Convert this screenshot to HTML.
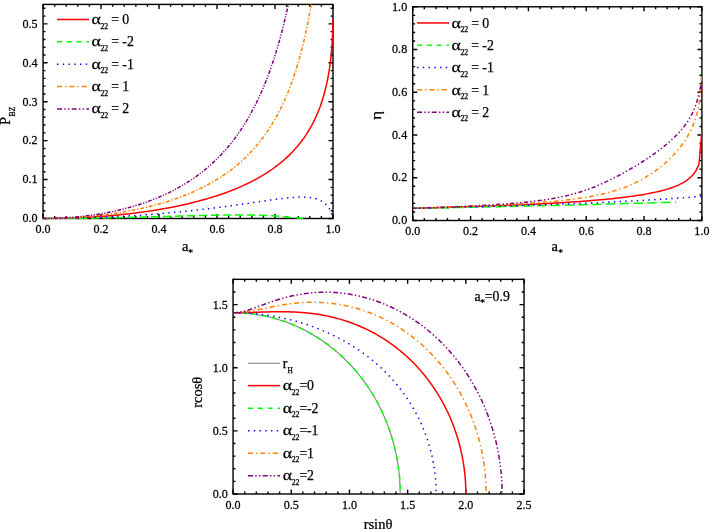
<!DOCTYPE html>
<html><head><meta charset="utf-8"><title>figure</title>
<style>
html,body{margin:0;padding:0;background:#fff}
svg{display:block;filter:blur(0.3px)}
svg text{font-family:"Liberation Serif","DejaVu Serif",serif;fill:#000;stroke:#000;stroke-width:0.25px}
</style></head>
<body>
<svg width="710" height="529" viewBox="0 0 710 529">
<rect width="710" height="529" fill="#fff"/>
<clipPath id="c1"><rect x="43.05" y="4.40" width="289.95" height="214.80"/></clipPath>
<path d="M54.65 218.50v-2.4M54.65 4.40v2.4M66.25 218.50v-2.4M66.25 4.40v2.4M77.84 218.50v-2.4M77.84 4.40v2.4M89.44 218.50v-2.4M89.44 4.40v2.4M112.64 218.50v-2.4M112.64 4.40v2.4M124.24 218.50v-2.4M124.24 4.40v2.4M135.83 218.50v-2.4M135.83 4.40v2.4M147.43 218.50v-2.4M147.43 4.40v2.4M170.63 218.50v-2.4M170.63 4.40v2.4M182.23 218.50v-2.4M182.23 4.40v2.4M193.82 218.50v-2.4M193.82 4.40v2.4M205.42 218.50v-2.4M205.42 4.40v2.4M228.62 218.50v-2.4M228.62 4.40v2.4M240.22 218.50v-2.4M240.22 4.40v2.4M251.81 218.50v-2.4M251.81 4.40v2.4M263.41 218.50v-2.4M263.41 4.40v2.4M286.61 218.50v-2.4M286.61 4.40v2.4M298.21 218.50v-2.4M298.21 4.40v2.4M309.80 218.50v-2.4M309.80 4.40v2.4M321.40 218.50v-2.4M321.40 4.40v2.4M43.05 210.71h2.4M333.00 210.71h-2.4M43.05 202.93h2.4M333.00 202.93h-2.4M43.05 195.14h2.4M333.00 195.14h-2.4M43.05 187.36h2.4M333.00 187.36h-2.4M43.05 171.79h2.4M333.00 171.79h-2.4M43.05 164.00h2.4M333.00 164.00h-2.4M43.05 156.22h2.4M333.00 156.22h-2.4M43.05 148.43h2.4M333.00 148.43h-2.4M43.05 132.86h2.4M333.00 132.86h-2.4M43.05 125.07h2.4M333.00 125.07h-2.4M43.05 117.29h2.4M333.00 117.29h-2.4M43.05 109.50h2.4M333.00 109.50h-2.4M43.05 93.93h2.4M333.00 93.93h-2.4M43.05 86.15h2.4M333.00 86.15h-2.4M43.05 78.36h2.4M333.00 78.36h-2.4M43.05 70.58h2.4M333.00 70.58h-2.4M43.05 55.01h2.4M333.00 55.01h-2.4M43.05 47.22h2.4M333.00 47.22h-2.4M43.05 39.43h2.4M333.00 39.43h-2.4M43.05 31.65h2.4M333.00 31.65h-2.4M43.05 16.08h2.4M333.00 16.08h-2.4M43.05 8.29h2.4M333.00 8.29h-2.4M43.05 218.50v-4.5M43.05 4.40v4.5M101.04 218.50v-4.5M101.04 4.40v4.5M159.03 218.50v-4.5M159.03 4.40v4.5M217.02 218.50v-4.5M217.02 4.40v4.5M275.01 218.50v-4.5M275.01 4.40v4.5M333.00 218.50v-4.5M333.00 4.40v4.5M43.05 218.50h4.5M333.00 218.50h-4.5M43.05 179.57h4.5M333.00 179.57h-4.5M43.05 140.65h4.5M333.00 140.65h-4.5M43.05 101.72h4.5M333.00 101.72h-4.5M43.05 62.79h4.5M333.00 62.79h-4.5M43.05 23.86h4.5M333.00 23.86h-4.5" stroke="#000" stroke-width="1.4" fill="none"/>
<rect x="43.05" y="4.40" width="289.95" height="214.10" fill="none" stroke="#000" stroke-width="1.4"/>
<text transform="translate(43.05,232.90) scale(0.95,1.04)" font-size="12.7" text-anchor="middle">0.0</text>
<text transform="translate(101.04,232.90) scale(0.95,1.04)" font-size="12.7" text-anchor="middle">0.2</text>
<text transform="translate(159.03,232.90) scale(0.95,1.04)" font-size="12.7" text-anchor="middle">0.4</text>
<text transform="translate(217.02,232.90) scale(0.95,1.04)" font-size="12.7" text-anchor="middle">0.6</text>
<text transform="translate(275.01,232.90) scale(0.95,1.04)" font-size="12.7" text-anchor="middle">0.8</text>
<text transform="translate(333.00,232.90) scale(0.95,1.04)" font-size="12.7" text-anchor="middle">1.0</text>
<text transform="translate(37.45,222.30) scale(0.95,1.04)" font-size="12.7" text-anchor="end">0.0</text>
<text transform="translate(37.45,183.37) scale(0.95,1.04)" font-size="12.7" text-anchor="end">0.1</text>
<text transform="translate(37.45,144.45) scale(0.95,1.04)" font-size="12.7" text-anchor="end">0.2</text>
<text transform="translate(37.45,105.52) scale(0.95,1.04)" font-size="12.7" text-anchor="end">0.3</text>
<text transform="translate(37.45,66.59) scale(0.95,1.04)" font-size="12.7" text-anchor="end">0.4</text>
<text transform="translate(37.45,27.66) scale(0.95,1.04)" font-size="12.7" text-anchor="end">0.5</text>
<path d="M43.05 218.50L45.95 218.49L48.85 218.48L51.75 218.45L54.65 218.42L57.55 218.37L60.45 218.31L63.35 218.25L66.25 218.17L69.15 218.08L72.05 217.98L74.94 217.88L77.84 217.76L80.74 217.63L83.64 217.48L86.54 217.33L89.44 217.17L92.34 216.99L95.24 216.81L98.14 216.61L101.04 216.40L103.94 216.18L106.84 215.95L109.74 215.71L112.64 215.45L115.54 215.19L118.44 214.91L121.34 214.61L124.24 214.31L127.14 213.99L130.03 213.66L132.93 213.31L135.83 212.96L138.73 212.58L141.63 212.20L144.53 211.79L147.43 211.38L150.33 210.95L153.23 210.50L156.13 210.03L159.03 209.56L161.93 209.06L164.83 208.55L167.73 208.01L170.63 207.46L173.53 206.90L176.43 206.31L179.33 205.70L182.23 205.08L185.13 204.43L188.02 203.76L190.92 203.06L193.82 202.35L196.72 201.61L199.62 200.85L202.52 200.06L205.42 199.24L208.32 198.40L211.22 197.52L214.12 196.62L217.02 195.68L219.92 194.72L222.82 193.72L225.72 192.68L228.62 191.60L231.52 190.49L234.42 189.34L237.32 188.14L240.22 186.89L243.12 185.60L246.01 184.26L248.91 182.86L251.81 181.40L254.71 179.89L257.61 178.31L260.51 176.66L263.41 174.93L266.31 173.13L269.21 171.23L272.11 169.25L275.01 167.16L277.91 164.97L280.81 162.65L283.71 160.21L286.61 157.61L289.51 154.86L292.41 151.92L295.31 148.78L298.21 145.41L301.11 141.77L304.00 137.83L306.17 134.65L308.17 131.51L310.03 128.41L311.74 125.34L313.33 122.32L314.80 119.34L316.16 116.41L317.42 113.52L318.58 110.69L319.66 107.90L320.65 105.16L321.58 102.48L322.43 99.85L323.22 97.27L323.95 94.74L324.62 92.27L325.25 89.86L325.83 87.50L326.36 85.19L326.86 82.94L327.32 80.75L327.74 78.60L328.14 76.51L328.50 74.48L328.83 72.50L329.15 70.57L329.43 68.69L329.70 66.86L329.95 65.09L330.17 63.36L330.39 61.68L330.58 60.05L330.76 58.47L330.93 56.94L331.08 55.45L331.23 54.00L331.36 52.60L331.48 51.24L331.59 49.93L331.70 48.65L331.80 47.41L331.89 46.22L331.97 45.06L332.05 43.94L332.12 42.85L332.18 41.80L332.24 40.79L332.30 39.80L332.35 38.86L332.40 37.94L332.45 37.05L332.49 36.19L332.53 35.36L332.56 34.56L332.59 33.79L332.62 33.04L332.65 32.32L332.68 31.63L332.70 30.95L332.72 30.30L332.75 29.68L332.76 29.07L332.78 28.49L332.80 27.93L332.81 27.39L332.83 26.86L332.84 26.36L332.85 25.87L332.86 25.40L332.87 24.95L332.88 24.51L332.89 24.09L332.90 23.69L332.91 23.30L332.91 22.92L332.92 22.56L332.93 22.21L332.93 21.87L332.94 21.55L332.94 21.23L332.95 20.93L332.95 20.64L332.95 20.36L332.96 20.09L332.96 19.83L332.96 19.58L332.97 19.34L332.97 19.11L332.97 18.89" stroke="#ff0000" stroke-width="1.5" fill="none" clip-path="url(#c1)"/>
<path d="M43.05 218.50L45.95 218.50L48.85 218.49L51.75 218.49L54.65 218.48L57.55 218.47L60.45 218.45L63.35 218.44L66.25 218.42L69.15 218.40L72.05 218.37L74.94 218.35L77.84 218.32L80.74 218.28L83.64 218.25L86.54 218.21L89.44 218.18L92.34 218.13L95.24 218.09L98.14 218.05L101.04 218.00L103.94 217.95L106.84 217.89L109.74 217.84L112.64 217.78L115.54 217.72L118.44 217.66L121.34 217.60L124.24 217.54L127.14 217.47L130.03 217.40L132.93 217.33L135.83 217.26L138.73 217.19L141.63 217.11L144.53 217.04L147.43 216.96L150.33 216.88L153.23 216.80L156.13 216.72L159.03 216.64L161.93 216.56L164.83 216.48L167.73 216.40L170.63 216.32L173.53 216.23L176.43 216.15L179.33 216.07L182.23 215.99L185.13 215.91L188.02 215.83L190.92 215.75L193.82 215.67L196.72 215.60L199.62 215.53L202.52 215.46L205.42 215.39L208.32 215.33L211.22 215.27L214.12 215.21L217.02 215.16L219.92 215.11L222.82 215.07L225.72 215.03L228.62 215.01L231.52 214.98L234.42 214.97L237.32 214.97L240.22 214.97L243.12 214.98L246.01 215.01L248.91 215.04L251.81 215.09L254.71 215.16L257.61 215.23L260.51 215.32L263.41 215.43L266.31 215.56L269.21 215.70L272.11 215.86L275.01 216.04L277.91 216.24L280.81 216.46L283.71 216.70L286.61 216.95L289.51 217.22L292.41 217.49L295.31 217.76L298.21 218.02L301.11 218.25L304.00 218.43L306.17 218.49L306.96 218.50" stroke="#00ff00" stroke-width="1.5" fill="none" stroke-dasharray="8.3 3.7" clip-path="url(#c1)"/>
<path d="M43.05 218.50L45.95 218.50L48.85 218.49L51.75 218.47L54.65 218.45L57.55 218.43L60.45 218.40L63.35 218.36L66.25 218.31L69.15 218.27L72.05 218.21L74.94 218.15L77.84 218.08L80.74 218.01L83.64 217.93L86.54 217.85L89.44 217.76L92.34 217.66L95.24 217.56L98.14 217.45L101.04 217.34L103.94 217.22L106.84 217.09L109.74 216.96L112.64 216.82L115.54 216.68L118.44 216.53L121.34 216.37L124.24 216.21L127.14 216.04L130.03 215.86L132.93 215.68L135.83 215.49L138.73 215.30L141.63 215.10L144.53 214.89L147.43 214.68L150.33 214.46L153.23 214.23L156.13 214.00L159.03 213.76L161.93 213.52L164.83 213.26L167.73 213.01L170.63 212.74L173.53 212.47L176.43 212.19L179.33 211.91L182.23 211.61L185.13 211.31L188.02 211.01L190.92 210.70L193.82 210.38L196.72 210.05L199.62 209.72L202.52 209.38L205.42 209.04L208.32 208.69L211.22 208.33L214.12 207.96L217.02 207.59L219.92 207.22L222.82 206.84L225.72 206.45L228.62 206.06L231.52 205.66L234.42 205.25L237.32 204.85L240.22 204.43L243.12 204.02L246.01 203.60L248.91 203.18L251.81 202.75L254.71 202.33L257.61 201.91L260.51 201.48L263.41 201.06L266.31 200.64L269.21 200.23L272.11 199.83L275.01 199.44L277.91 199.06L280.81 198.69L283.71 198.35L286.61 198.03L289.51 197.75L292.41 197.50L295.31 197.30L298.21 197.16L301.11 197.09L304.00 197.11L306.17 197.19L308.17 197.33L310.03 197.53L311.74 197.77L313.33 198.06L314.80 198.40L316.16 198.77L317.42 199.18L318.58 199.61L319.66 200.07L320.65 200.56L321.58 201.06L322.43 201.58L323.22 202.11L323.95 202.65L324.62 203.20L325.25 203.75L325.83 204.30L326.36 204.85L326.86 205.39L327.32 205.93L327.74 206.46L328.14 206.99L328.50 207.50L328.83 208.01L329.15 208.50L329.43 208.98L329.70 209.44L329.95 209.89L330.17 210.33L330.39 210.75L330.58 211.15L330.76 211.54L330.93 211.92L331.08 212.28L331.23 212.62L331.36 212.95L331.48 213.27L331.59 213.57L331.70 213.85L331.80 214.13L331.89 214.39L331.97 214.63L332.05 214.87L332.12 215.09L332.18 215.30L332.24 215.50L332.30 215.68L332.35 215.86L332.40 216.03L332.45 216.18L332.49 216.33L332.53 216.47L332.56 216.60L332.59 216.73L332.62 216.84L332.65 216.95L332.68 217.06L332.70 217.15L332.72 217.24L332.75 217.33L332.76 217.41L332.78 217.48L332.80 217.55L332.81 217.61L332.83 217.67L332.84 217.73L332.85 217.78L332.86 217.83L332.87 217.88L332.88 217.92L332.89 217.96L332.90 218.00L332.91 218.04L332.91 218.07L332.92 218.10L332.93 218.13L332.93 218.15L332.94 218.18L332.94 218.20L332.95 218.22L332.95 218.24L332.95 218.26L332.96 218.28L332.96 218.29L332.96 218.31L332.97 218.32L332.97 218.33L332.97 218.35" stroke="#0000ff" stroke-width="1.5" fill="none" stroke-dasharray="1.4 4.3" clip-path="url(#c1)"/>
<path d="M43.05 218.50L45.95 218.49L48.85 218.47L51.75 218.43L54.65 218.37L57.55 218.30L60.45 218.21L63.35 218.11L66.25 217.98L69.15 217.85L72.05 217.69L74.94 217.52L77.84 217.33L80.74 217.13L83.64 216.91L86.54 216.67L89.44 216.41L92.34 216.13L95.24 215.84L98.14 215.53L101.04 215.20L103.94 214.85L106.84 214.48L109.74 214.09L112.64 213.68L115.54 213.26L118.44 212.81L121.34 212.34L124.24 211.84L127.14 211.33L130.03 210.79L132.93 210.23L135.83 209.65L138.73 209.04L141.63 208.40L144.53 207.74L147.43 207.05L150.33 206.34L153.23 205.60L156.13 204.82L159.03 204.02L161.93 203.19L164.83 202.32L167.73 201.42L170.63 200.49L173.53 199.52L176.43 198.51L179.33 197.46L182.23 196.38L185.13 195.25L188.02 194.07L190.92 192.85L193.82 191.59L196.72 190.27L199.62 188.90L202.52 187.48L205.42 186.00L208.32 184.45L211.22 182.85L214.12 181.17L217.02 179.43L219.92 177.61L222.82 175.71L225.72 173.72L228.62 171.65L231.52 169.48L234.42 167.22L237.32 164.84L240.22 162.35L243.12 159.73L246.01 156.98L248.91 154.09L251.81 151.04L254.71 147.83L257.61 144.44L260.51 140.85L263.41 137.04L266.31 133.00L269.21 128.71L272.11 124.12L275.01 119.23L277.91 113.98L280.81 108.34L283.71 102.26L286.61 95.68L289.51 88.54L292.41 80.74L295.31 72.20L298.21 62.77L301.11 52.30L304.00 40.60L306.17 30.89L308.17 21.03L310.03 11.04L311.74 0.92L313.33 -9.32L314.80 -19.65L316.16 -30.07L317.42 -40.58L318.58 -51.14L319.66 -61.76L320.65 -72.42L321.58 -83.11L322.43 -93.81L323.22 -104.52L323.95 -115.23L324.62 -125.91L325.25 -136.56L325.83 -147.17L326.36 -157.73L326.86 -168.22L327.32 -178.65L327.74 -188.99L328.14 -199.24L328.50 -209.39L328.83 -219.43L329.15 -229.36L329.43 -239.17L329.70 -248.85L329.95 -258.39L330.17 -267.79L330.39 -277.05L330.58 -286.15L330.76 -295.11L330.93 -303.90L331.08 -312.53L331.23 -321.00L331.36 -329.30L331.48 -337.43L331.59 -345.40L331.70 -353.19L331.80 -360.81L331.89 -368.26L331.97 -375.54L332.05 -382.64L332.12 -389.57L332.18 -396.34L332.24 -402.93L332.30 -409.35L332.35 -415.61L332.40 -421.70L332.45 -427.63L332.49 -433.39L332.53 -439.00L332.56 -444.45L332.59 -449.75L332.62 -454.89L332.65 -459.88L332.68 -464.73L332.70 -469.43L332.72 -473.99L332.75 -478.42L332.76 -482.71L332.78 -486.86L332.80 -490.89L332.81 -494.79L332.83 -498.57L332.84 -502.23L332.85 -505.77L332.86 -509.19L332.87 -512.50L332.88 -515.71L332.89 -518.81L332.90 -521.81L332.91 -524.71L332.91 -527.51L332.92 -530.21L332.93 -532.83L332.93 -535.35L332.94 -537.79L332.94 -540.15L332.95 -542.43L332.95 -544.62L332.95 -546.74L332.96 -548.79L332.96 -550.77L332.96 -552.67L332.97 -554.51L332.97 -556.29L332.97 -558.00" stroke="#ff8000" stroke-width="1.5" fill="none" stroke-dasharray="3.8 1.9 1.3 1.9" clip-path="url(#c1)"/>
<path d="M43.05 218.50L45.95 218.49L48.85 218.45L51.75 218.40L54.65 218.31L57.55 218.21L60.45 218.08L63.35 217.93L66.25 217.76L69.15 217.56L72.05 217.34L74.94 217.09L77.84 216.82L80.74 216.52L83.64 216.20L86.54 215.85L89.44 215.48L92.34 215.08L95.24 214.65L98.14 214.20L101.04 213.72L103.94 213.21L106.84 212.67L109.74 212.11L112.64 211.51L115.54 210.88L118.44 210.22L121.34 209.53L124.24 208.81L127.14 208.05L130.03 207.26L132.93 206.43L135.83 205.57L138.73 204.66L141.63 203.72L144.53 202.74L147.43 201.71L150.33 200.64L153.23 199.53L156.13 198.37L159.03 197.16L161.93 195.90L164.83 194.59L167.73 193.23L170.63 191.81L173.53 190.33L176.43 188.79L179.33 187.19L182.23 185.51L185.13 183.77L188.02 181.96L190.92 180.07L193.82 178.09L196.72 176.03L199.62 173.89L202.52 171.65L205.42 169.30L208.32 166.86L211.22 164.30L214.12 161.62L217.02 158.82L219.92 155.89L222.82 152.81L225.72 149.59L228.62 146.20L231.52 142.64L234.42 138.89L237.32 134.95L240.22 130.80L243.12 126.41L246.01 121.77L248.91 116.87L251.81 111.67L254.71 106.16L257.61 100.30L260.51 94.06L263.41 87.40L266.31 80.27L269.21 72.64L272.11 64.45L275.01 55.62L277.91 46.08L280.81 35.75L283.71 24.51L286.61 12.25L289.51 -1.21L292.41 -16.03L295.31 -32.45L298.21 -50.75L301.11 -71.31L304.00 -94.59L306.17 -114.11L308.17 -134.12L310.03 -154.59L311.74 -175.51L313.33 -196.85L314.80 -218.58L316.16 -240.68L317.42 -263.12L318.58 -285.87L319.66 -308.90L320.65 -332.19L321.58 -355.70L322.43 -379.40L323.22 -403.27L323.95 -427.26L324.62 -451.35L325.25 -475.51L325.83 -499.71L326.36 -523.92L326.86 -548.11L327.32 -572.25L327.74 -596.31L328.14 -620.27L328.50 -644.11L328.83 -667.79L329.15 -691.29L329.43 -714.60L329.70 -737.69L329.95 -760.54L330.17 -783.13L330.39 -805.44L330.58 -827.47L330.76 -849.19L330.93 -870.59L331.08 -891.66L331.23 -912.38L331.36 -932.75L331.48 -952.76L331.59 -972.40L331.70 -991.67L331.80 -1010.55L331.89 -1029.05L331.97 -1047.16L332.05 -1064.87L332.12 -1082.19L332.18 -1099.12L332.24 -1115.65L332.30 -1131.79L332.35 -1147.53L332.40 -1162.88L332.45 -1177.85L332.49 -1192.43L332.53 -1206.62L332.56 -1220.44L332.59 -1233.88L332.62 -1246.95L332.65 -1259.66L332.68 -1272.01L332.70 -1284.01L332.72 -1295.66L332.75 -1306.96L332.76 -1317.94L332.78 -1328.58L332.80 -1338.91L332.81 -1348.92L332.83 -1358.62L332.84 -1368.02L332.85 -1377.13L332.86 -1385.94L332.87 -1394.48L332.88 -1402.75L332.89 -1410.75L332.90 -1418.48L332.91 -1425.97L332.91 -1433.21L332.92 -1440.21L332.93 -1446.98L332.93 -1453.52L332.94 -1459.84L332.94 -1465.95L332.95 -1471.85L332.95 -1477.55L332.95 -1483.05L332.96 -1488.37L332.96 -1493.50L332.96 -1498.45L332.97 -1503.24L332.97 -1507.85L332.97 -1512.30" stroke="#800080" stroke-width="1.5" fill="none" stroke-dasharray="3.8 1.5 1.2 1.5 1.2 1.5" clip-path="url(#c1)"/>
<path d="M57 19.5H89" stroke="#ff0000" stroke-width="1.5" fill="none"/>
<text transform="translate(91.53,24.00) scale(1.28,1)" font-size="13.8" stroke="none">α</text>
<text x="100.40" y="28.60" font-size="7.8" stroke-width="0.15">22</text>
<text x="111.30" y="24.00" font-size="13.8">=</text>
<text x="122.30" y="24.00" font-size="13.8">0</text>
<path d="M57 41.85H89" stroke="#00ff00" stroke-width="1.5" fill="none" stroke-dasharray="5 4.8"/>
<text transform="translate(91.53,46.35) scale(1.28,1)" font-size="13.8" stroke="none">α</text>
<text x="100.40" y="50.95" font-size="7.8" stroke-width="0.15">22</text>
<text x="111.30" y="46.35" font-size="13.8">=</text>
<text x="122.30" y="46.35" font-size="13.8">-2</text>
<path d="M57 64.2H89" stroke="#0000ff" stroke-width="1.5" fill="none" stroke-dasharray="1.4 4.35"/>
<text transform="translate(91.53,68.70) scale(1.28,1)" font-size="13.8" stroke="none">α</text>
<text x="100.40" y="73.30" font-size="7.8" stroke-width="0.15">22</text>
<text x="111.30" y="68.70" font-size="13.8">=</text>
<text x="122.30" y="68.70" font-size="13.8">-1</text>
<path d="M57 86.55000000000001H89" stroke="#ff8000" stroke-width="1.5" fill="none" stroke-dasharray="5 3 1.4 3"/>
<text transform="translate(91.53,91.05) scale(1.28,1)" font-size="13.8" stroke="none">α</text>
<text x="100.40" y="95.65" font-size="7.8" stroke-width="0.15">22</text>
<text x="111.30" y="91.05" font-size="13.8">=</text>
<text x="122.30" y="91.05" font-size="13.8">1</text>
<path d="M57 108.9H89" stroke="#800080" stroke-width="1.5" fill="none" stroke-dasharray="5 2.3 1.4 2.3 1.4 2.3"/>
<text transform="translate(91.53,113.40) scale(1.28,1)" font-size="13.8" stroke="none">α</text>
<text x="100.40" y="118.00" font-size="7.8" stroke-width="0.15">22</text>
<text x="111.30" y="113.40" font-size="13.8">=</text>
<text x="122.30" y="113.40" font-size="13.8">2</text>
<text x="181.9" y="250.8" font-size="14.5">a</text><text x="188.3" y="256.4" font-size="9.5" stroke="#000" stroke-width="0.5">*</text>
<g transform="translate(10,124.6) rotate(-90)"><text x="-0.4" y="0" font-size="14.5">P</text><text x="8.2" y="5" font-size="7.8">BZ</text></g>
<clipPath id="c2"><rect x="412.75" y="6.80" width="289.15" height="214.40"/></clipPath>
<path d="M424.32 220.50v-2.4M424.32 6.80v2.4M435.88 220.50v-2.4M435.88 6.80v2.4M447.45 220.50v-2.4M447.45 6.80v2.4M459.01 220.50v-2.4M459.01 6.80v2.4M482.15 220.50v-2.4M482.15 6.80v2.4M493.71 220.50v-2.4M493.71 6.80v2.4M505.28 220.50v-2.4M505.28 6.80v2.4M516.84 220.50v-2.4M516.84 6.80v2.4M539.98 220.50v-2.4M539.98 6.80v2.4M551.54 220.50v-2.4M551.54 6.80v2.4M563.11 220.50v-2.4M563.11 6.80v2.4M574.67 220.50v-2.4M574.67 6.80v2.4M597.81 220.50v-2.4M597.81 6.80v2.4M609.37 220.50v-2.4M609.37 6.80v2.4M620.94 220.50v-2.4M620.94 6.80v2.4M632.50 220.50v-2.4M632.50 6.80v2.4M655.64 220.50v-2.4M655.64 6.80v2.4M667.20 220.50v-2.4M667.20 6.80v2.4M678.77 220.50v-2.4M678.77 6.80v2.4M690.33 220.50v-2.4M690.33 6.80v2.4M412.75 211.95h2.4M701.90 211.95h-2.4M412.75 203.40h2.4M701.90 203.40h-2.4M412.75 194.86h2.4M701.90 194.86h-2.4M412.75 186.31h2.4M701.90 186.31h-2.4M412.75 169.21h2.4M701.90 169.21h-2.4M412.75 160.66h2.4M701.90 160.66h-2.4M412.75 152.12h2.4M701.90 152.12h-2.4M412.75 143.57h2.4M701.90 143.57h-2.4M412.75 126.47h2.4M701.90 126.47h-2.4M412.75 117.92h2.4M701.90 117.92h-2.4M412.75 109.38h2.4M701.90 109.38h-2.4M412.75 100.83h2.4M701.90 100.83h-2.4M412.75 83.73h2.4M701.90 83.73h-2.4M412.75 75.18h2.4M701.90 75.18h-2.4M412.75 66.64h2.4M701.90 66.64h-2.4M412.75 58.09h2.4M701.90 58.09h-2.4M412.75 40.99h2.4M701.90 40.99h-2.4M412.75 32.44h2.4M701.90 32.44h-2.4M412.75 23.90h2.4M701.90 23.90h-2.4M412.75 15.35h2.4M701.90 15.35h-2.4M412.75 220.50v-4.5M412.75 6.80v4.5M470.58 220.50v-4.5M470.58 6.80v4.5M528.41 220.50v-4.5M528.41 6.80v4.5M586.24 220.50v-4.5M586.24 6.80v4.5M644.07 220.50v-4.5M644.07 6.80v4.5M701.90 220.50v-4.5M701.90 6.80v4.5M412.75 220.50h4.5M701.90 220.50h-4.5M412.75 177.76h4.5M701.90 177.76h-4.5M412.75 135.02h4.5M701.90 135.02h-4.5M412.75 92.28h4.5M701.90 92.28h-4.5M412.75 49.54h4.5M701.90 49.54h-4.5M412.75 6.80h4.5M701.90 6.80h-4.5" stroke="#000" stroke-width="1.4" fill="none"/>
<rect x="412.75" y="6.80" width="289.15" height="213.70" fill="none" stroke="#000" stroke-width="1.4"/>
<text transform="translate(412.75,235.20) scale(0.95,1.04)" font-size="12.7" text-anchor="middle">0.0</text>
<text transform="translate(470.58,235.20) scale(0.95,1.04)" font-size="12.7" text-anchor="middle">0.2</text>
<text transform="translate(528.41,235.20) scale(0.95,1.04)" font-size="12.7" text-anchor="middle">0.4</text>
<text transform="translate(586.24,235.20) scale(0.95,1.04)" font-size="12.7" text-anchor="middle">0.6</text>
<text transform="translate(644.07,235.20) scale(0.95,1.04)" font-size="12.7" text-anchor="middle">0.8</text>
<text transform="translate(701.90,235.20) scale(0.95,1.04)" font-size="12.7" text-anchor="middle">1.0</text>
<text transform="translate(407.15,224.20) scale(0.95,1.04)" font-size="12.7" text-anchor="end">0.0</text>
<text transform="translate(407.15,181.46) scale(0.95,1.04)" font-size="12.7" text-anchor="end">0.2</text>
<text transform="translate(407.15,138.72) scale(0.95,1.04)" font-size="12.7" text-anchor="end">0.4</text>
<text transform="translate(407.15,95.98) scale(0.95,1.04)" font-size="12.7" text-anchor="end">0.6</text>
<text transform="translate(407.15,53.24) scale(0.95,1.04)" font-size="12.7" text-anchor="end">0.8</text>
<text transform="translate(407.15,10.50) scale(0.95,1.04)" font-size="12.7" text-anchor="end">1.0</text>
<path d="M412.75 208.28L415.64 208.21L418.53 208.14L421.42 208.07L424.32 208.00L427.21 207.92L430.10 207.85L432.99 207.77L435.88 207.70L438.77 207.62L441.67 207.54L444.56 207.46L447.45 207.38L450.34 207.30L453.23 207.22L456.12 207.13L459.01 207.05L461.91 206.96L464.80 206.87L467.69 206.78L470.58 206.69L473.47 206.59L476.36 206.50L479.25 206.40L482.15 206.30L485.04 206.21L487.93 206.10L490.82 206.00L493.71 205.89L496.60 205.79L499.50 205.68L502.39 205.57L505.28 205.45L508.17 205.34L511.06 205.22L513.95 205.10L516.84 204.98L519.74 204.85L522.63 204.72L525.52 204.59L528.41 204.46L531.30 204.32L534.19 204.19L537.08 204.04L539.98 203.90L542.87 203.75L545.76 203.60L548.65 203.44L551.54 203.28L554.43 203.12L557.33 202.95L560.22 202.78L563.11 202.60L566.00 202.42L568.89 202.24L571.78 202.05L574.67 201.85L577.57 201.65L580.46 201.44L583.35 201.23L586.24 201.01L589.13 200.78L592.02 200.55L594.91 200.31L597.81 200.06L600.70 199.80L603.59 199.53L606.48 199.25L609.37 198.97L612.26 198.67L615.15 198.36L618.05 198.04L620.94 197.70L623.83 197.35L626.72 196.99L629.61 196.61L632.50 196.21L635.40 195.79L638.29 195.35L641.18 194.89L644.07 194.40L646.96 193.88L649.85 193.33L652.74 192.75L655.64 192.13L658.53 191.46L661.42 190.75L664.31 189.98L667.20 189.14L670.09 188.22L672.99 187.22L675.88 186.10L678.77 184.85L681.66 183.43L684.55 181.79L687.44 179.87L690.33 177.53L693.23 174.57L696.12 170.52L699.01 164.08L701.90 130.19" stroke="#ff0000" stroke-width="1.5" fill="none" clip-path="url(#c2)"/>
<path d="M412.75 208.28L415.64 208.23L418.53 208.18L421.42 208.13L424.32 208.08L427.21 208.03L430.10 207.97L432.99 207.92L435.88 207.87L438.77 207.82L441.67 207.77L444.56 207.71L447.45 207.66L450.34 207.60L453.23 207.55L456.12 207.50L459.01 207.44L461.91 207.38L464.80 207.33L467.69 207.27L470.58 207.22L473.47 207.16L476.36 207.10L479.25 207.04L482.15 206.98L485.04 206.93L487.93 206.87L490.82 206.81L493.71 206.75L496.60 206.69L499.50 206.63L502.39 206.56L505.28 206.50L508.17 206.44L511.06 206.38L513.95 206.32L516.84 206.25L519.74 206.19L522.63 206.12L525.52 206.06L528.41 205.99L531.30 205.93L534.19 205.86L537.08 205.80L539.98 205.73L542.87 205.66L545.76 205.59L548.65 205.53L551.54 205.46L554.43 205.39L557.33 205.32L560.22 205.25L563.11 205.18L566.00 205.11L568.89 205.04L571.78 204.97L574.67 204.89L577.57 204.82L580.46 204.75L583.35 204.68L586.24 204.60L589.13 204.53L592.02 204.45L594.91 204.38L597.81 204.30L600.70 204.23L603.59 204.15L606.48 204.08L609.37 204.00L612.26 203.92L615.15 203.84L618.05 203.77L620.94 203.69L623.83 203.61L626.72 203.53L629.61 203.45L632.50 203.37L635.40 203.29L638.29 203.21L641.18 203.13L644.07 203.05L646.96 202.97L649.85 202.89L652.74 202.81L655.64 202.73L658.53 202.65L661.42 202.57L664.31 202.49L667.20 202.41L670.09 202.33L672.99 202.24L675.88 202.16" stroke="#00ff00" stroke-width="1.5" fill="none" stroke-dasharray="9.5 4.3" clip-path="url(#c2)"/>
<path d="M412.75 208.28L415.64 208.22L418.53 208.16L421.42 208.10L424.32 208.04L427.21 207.98L430.10 207.91L432.99 207.85L435.88 207.79L438.77 207.72L441.67 207.66L444.56 207.59L447.45 207.52L450.34 207.46L453.23 207.39L456.12 207.32L459.01 207.25L461.91 207.18L464.80 207.11L467.69 207.04L470.58 206.96L473.47 206.89L476.36 206.81L479.25 206.74L482.15 206.66L485.04 206.59L487.93 206.51L490.82 206.43L493.71 206.35L496.60 206.27L499.50 206.19L502.39 206.10L505.28 206.02L508.17 205.93L511.06 205.85L513.95 205.76L516.84 205.67L519.74 205.58L522.63 205.49L525.52 205.40L528.41 205.31L531.30 205.22L534.19 205.12L537.08 205.02L539.98 204.93L542.87 204.83L545.76 204.73L548.65 204.62L551.54 204.52L554.43 204.42L557.33 204.31L560.22 204.20L563.11 204.10L566.00 203.99L568.89 203.87L571.78 203.76L574.67 203.64L577.57 203.53L580.46 203.41L583.35 203.29L586.24 203.17L589.13 203.04L592.02 202.92L594.91 202.79L597.81 202.66L600.70 202.53L603.59 202.40L606.48 202.26L609.37 202.12L612.26 201.99L615.15 201.84L618.05 201.70L620.94 201.55L623.83 201.41L626.72 201.26L629.61 201.10L632.50 200.95L635.40 200.79L638.29 200.63L641.18 200.47L644.07 200.30L646.96 200.13L649.85 199.96L652.74 199.79L655.64 199.61L658.53 199.43L661.42 199.25L664.31 199.06L667.20 198.87L670.09 198.68L672.99 198.49L675.88 198.29L678.77 198.09L681.66 197.88L684.55 197.68L687.44 197.47L690.33 197.25L693.23 197.04L696.12 196.82L699.01 196.59L701.90 196.37" stroke="#0000ff" stroke-width="1.5" fill="none" stroke-dasharray="1.4 4.35" clip-path="url(#c2)"/>
<path d="M412.75 208.28L415.64 208.20L418.53 208.12L421.42 208.04L424.32 207.95L427.21 207.87L430.10 207.78L432.99 207.70L435.88 207.61L438.77 207.52L441.67 207.42L444.56 207.33L447.45 207.23L450.34 207.13L453.23 207.03L456.12 206.93L459.01 206.83L461.91 206.72L464.80 206.61L467.69 206.50L470.58 206.39L473.47 206.27L476.36 206.15L479.25 206.03L482.15 205.90L485.04 205.77L487.93 205.64L490.82 205.51L493.71 205.37L496.60 205.23L499.50 205.08L502.39 204.93L505.28 204.78L508.17 204.62L511.06 204.46L513.95 204.29L516.84 204.11L519.74 203.94L522.63 203.75L525.52 203.56L528.41 203.37L531.30 203.16L534.19 202.95L537.08 202.74L539.98 202.51L542.87 202.28L545.76 202.03L548.65 201.78L551.54 201.52L554.43 201.24L557.33 200.96L560.22 200.66L563.11 200.35L566.00 200.02L568.89 199.68L571.78 199.32L574.67 198.95L577.57 198.55L580.46 198.13L583.35 197.69L586.24 197.23L589.13 196.73L592.02 196.21L594.91 195.66L597.81 195.07L600.70 194.45L603.59 193.78L606.48 193.07L609.37 192.31L612.26 191.51L615.15 190.65L618.05 189.73L620.94 188.74L623.83 187.70L626.72 186.58L629.61 185.39L632.50 184.12L635.40 182.76L638.29 181.33L641.18 179.80L644.07 178.18L646.96 176.46L649.85 174.64L652.74 172.72L655.64 170.68L658.53 168.52L661.42 166.23L664.31 163.80L667.20 161.22L670.09 158.47L672.99 155.53L675.88 152.38L678.77 148.96L681.66 145.24L684.55 141.13L687.44 136.52L690.33 131.22L693.23 124.92L696.12 116.94L699.01 105.45L701.90 73.05" stroke="#ff8000" stroke-width="1.5" fill="none" stroke-dasharray="4.4 3.0 1.4 3.0" clip-path="url(#c2)"/>
<path d="M412.75 208.28L415.64 208.19L418.53 208.10L421.42 208.01L424.32 207.91L427.21 207.82L430.10 207.72L432.99 207.62L435.88 207.51L438.77 207.41L441.67 207.30L444.56 207.19L447.45 207.08L450.34 206.96L453.23 206.84L456.12 206.72L459.01 206.59L461.91 206.46L464.80 206.33L467.69 206.19L470.58 206.05L473.47 205.90L476.36 205.76L479.25 205.60L482.15 205.44L485.04 205.28L487.93 205.11L490.82 204.93L493.71 204.75L496.60 204.56L499.50 204.36L502.39 204.16L505.28 203.94L508.17 203.72L511.06 203.49L513.95 203.25L516.84 203.00L519.74 202.74L522.63 202.46L525.52 202.17L528.41 201.87L531.30 201.55L534.19 201.21L537.08 200.86L539.98 200.48L542.87 200.09L545.76 199.67L548.65 199.22L551.54 198.74L554.43 198.24L557.33 197.70L560.22 197.13L563.11 196.51L566.00 195.86L568.89 195.17L571.78 194.43L574.67 193.64L577.57 192.80L580.46 191.91L583.35 190.97L586.24 189.98L589.13 188.94L592.02 187.84L594.91 186.69L597.81 185.49L600.70 184.25L603.59 182.96L606.48 181.62L609.37 180.24L612.26 178.81L615.15 177.35L618.05 175.84L620.94 174.30L623.83 172.72L626.72 171.11L629.61 169.46L632.50 167.77L635.40 166.05L638.29 164.29L641.18 162.49L644.07 160.65L646.96 158.76L649.85 156.83L652.74 154.84L655.64 152.79L658.53 150.67L661.42 148.47L664.31 146.19L667.20 143.80L670.09 141.29L672.99 138.64L675.88 135.82L678.77 132.79L681.66 129.50L684.55 125.87L687.44 121.79L690.33 117.10L693.23 111.49L696.12 104.35L699.01 93.98L701.90 80.53" stroke="#800080" stroke-width="1.5" fill="none" stroke-dasharray="4.2 2.3 1.4 2.3 1.4 2.3" clip-path="url(#c2)"/>
<path d="M417 22.95H449" stroke="#ff0000" stroke-width="1.5" fill="none"/>
<text transform="translate(451.53,27.65) scale(1.28,1)" font-size="13.8" stroke="none">α</text>
<text x="460.40" y="32.25" font-size="7.8" stroke-width="0.15">22</text>
<text x="471.30" y="27.65" font-size="13.8">=</text>
<text x="482.30" y="27.65" font-size="13.8">0</text>
<path d="M417 45.25H449" stroke="#00ff00" stroke-width="1.5" fill="none" stroke-dasharray="5 4.8"/>
<text transform="translate(451.53,49.95) scale(1.28,1)" font-size="13.8" stroke="none">α</text>
<text x="460.40" y="54.55" font-size="7.8" stroke-width="0.15">22</text>
<text x="471.30" y="49.95" font-size="13.8">=</text>
<text x="482.30" y="49.95" font-size="13.8">-2</text>
<path d="M417 67.55H449" stroke="#0000ff" stroke-width="1.5" fill="none" stroke-dasharray="1.4 4.35"/>
<text transform="translate(451.53,72.25) scale(1.28,1)" font-size="13.8" stroke="none">α</text>
<text x="460.40" y="76.85" font-size="7.8" stroke-width="0.15">22</text>
<text x="471.30" y="72.25" font-size="13.8">=</text>
<text x="482.30" y="72.25" font-size="13.8">-1</text>
<path d="M417 89.85000000000001H449" stroke="#ff8000" stroke-width="1.5" fill="none" stroke-dasharray="5 3 1.4 3"/>
<text transform="translate(451.53,94.55) scale(1.28,1)" font-size="13.8" stroke="none">α</text>
<text x="460.40" y="99.15" font-size="7.8" stroke-width="0.15">22</text>
<text x="471.30" y="94.55" font-size="13.8">=</text>
<text x="482.30" y="94.55" font-size="13.8">1</text>
<path d="M417 112.15H449" stroke="#800080" stroke-width="1.5" fill="none" stroke-dasharray="5 2.3 1.4 2.3 1.4 2.3"/>
<text transform="translate(451.53,116.85) scale(1.28,1)" font-size="13.8" stroke="none">α</text>
<text x="460.40" y="121.45" font-size="7.8" stroke-width="0.15">22</text>
<text x="471.30" y="116.85" font-size="13.8">=</text>
<text x="482.30" y="116.85" font-size="13.8">2</text>
<text x="551.5" y="250.8" font-size="14.5">a</text><text x="558.2" y="256.4" font-size="9.5" stroke="#000" stroke-width="0.5">*</text>
<text transform="translate(380.9,115.3) rotate(-90) scale(1.15,1)" font-size="14.5" text-anchor="middle">η</text>
<clipPath id="c3"><rect x="233.05" y="279.35" width="291.00" height="215.35"/></clipPath>
<path d="M244.69 494.00v-2.4M244.69 279.35v2.4M256.33 494.00v-2.4M256.33 279.35v2.4M267.97 494.00v-2.4M267.97 279.35v2.4M279.61 494.00v-2.4M279.61 279.35v2.4M302.89 494.00v-2.4M302.89 279.35v2.4M314.53 494.00v-2.4M314.53 279.35v2.4M326.17 494.00v-2.4M326.17 279.35v2.4M337.81 494.00v-2.4M337.81 279.35v2.4M361.09 494.00v-2.4M361.09 279.35v2.4M372.73 494.00v-2.4M372.73 279.35v2.4M384.37 494.00v-2.4M384.37 279.35v2.4M396.01 494.00v-2.4M396.01 279.35v2.4M419.29 494.00v-2.4M419.29 279.35v2.4M430.93 494.00v-2.4M430.93 279.35v2.4M442.57 494.00v-2.4M442.57 279.35v2.4M454.21 494.00v-2.4M454.21 279.35v2.4M477.49 494.00v-2.4M477.49 279.35v2.4M489.13 494.00v-2.4M489.13 279.35v2.4M500.77 494.00v-2.4M500.77 279.35v2.4M512.41 494.00v-2.4M512.41 279.35v2.4M233.05 481.37h2.4M524.05 481.37h-2.4M233.05 468.75h2.4M524.05 468.75h-2.4M233.05 456.12h2.4M524.05 456.12h-2.4M233.05 443.49h2.4M524.05 443.49h-2.4M233.05 418.24h2.4M524.05 418.24h-2.4M233.05 405.61h2.4M524.05 405.61h-2.4M233.05 392.99h2.4M524.05 392.99h-2.4M233.05 380.36h2.4M524.05 380.36h-2.4M233.05 355.11h2.4M524.05 355.11h-2.4M233.05 342.48h2.4M524.05 342.48h-2.4M233.05 329.86h2.4M524.05 329.86h-2.4M233.05 317.23h2.4M524.05 317.23h-2.4M233.05 291.98h2.4M524.05 291.98h-2.4M233.05 279.35h2.4M524.05 279.35h-2.4M233.05 494.00v-4.5M233.05 279.35v4.5M291.25 494.00v-4.5M291.25 279.35v4.5M349.45 494.00v-4.5M349.45 279.35v4.5M407.65 494.00v-4.5M407.65 279.35v4.5M465.85 494.00v-4.5M465.85 279.35v4.5M524.05 494.00v-4.5M524.05 279.35v4.5M233.05 494.00h4.5M524.05 494.00h-4.5M233.05 430.87h4.5M524.05 430.87h-4.5M233.05 367.74h4.5M524.05 367.74h-4.5M233.05 304.60h4.5M524.05 304.60h-4.5" stroke="#000" stroke-width="1.4" fill="none"/>
<rect x="233.05" y="279.35" width="291.00" height="214.65" fill="none" stroke="#000" stroke-width="1.4"/>
<text transform="translate(233.05,509.40) scale(0.95,1.04)" font-size="12.7" text-anchor="middle">0.0</text>
<text transform="translate(291.25,509.40) scale(0.95,1.04)" font-size="12.7" text-anchor="middle">0.5</text>
<text transform="translate(349.45,509.40) scale(0.95,1.04)" font-size="12.7" text-anchor="middle">1.0</text>
<text transform="translate(407.65,509.40) scale(0.95,1.04)" font-size="12.7" text-anchor="middle">1.5</text>
<text transform="translate(465.85,509.40) scale(0.95,1.04)" font-size="12.7" text-anchor="middle">2.0</text>
<text transform="translate(524.05,509.40) scale(0.95,1.04)" font-size="12.7" text-anchor="middle">2.5</text>
<text transform="translate(227.85,498.10) scale(0.95,1.04)" font-size="12.7" text-anchor="end">0.0</text>
<text transform="translate(227.85,434.97) scale(0.95,1.04)" font-size="12.7" text-anchor="end">0.5</text>
<text transform="translate(227.85,371.84) scale(0.95,1.04)" font-size="12.7" text-anchor="end">1.0</text>
<text transform="translate(227.85,308.70) scale(0.95,1.04)" font-size="12.7" text-anchor="end">1.5</text>
<path d="M233.05 312.70L234.51 312.70L235.97 312.73L237.43 312.76L238.88 312.81L240.34 312.87L241.80 312.95L243.25 313.04L244.71 313.14L246.16 313.26L247.62 313.39L249.07 313.53L250.52 313.69L251.97 313.86L253.42 314.05L254.87 314.25L256.31 314.46L257.75 314.69L259.20 314.93L260.64 315.18L262.07 315.45L263.51 315.73L264.94 316.03L266.37 316.34L267.80 316.66L269.23 317.00L270.65 317.34L272.07 317.71L273.48 318.08L274.90 318.47L276.31 318.88L277.72 319.29L279.12 319.72L280.52 320.16L281.92 320.62L283.31 321.09L284.70 321.57L286.08 322.07L287.46 322.58L288.84 323.10L290.21 323.63L291.58 324.18L292.95 324.74L294.31 325.31L295.66 325.90L297.01 326.50L298.36 327.11L299.70 327.73L301.03 328.37L302.36 329.02L303.69 329.68L305.00 330.36L306.32 331.05L307.63 331.75L308.93 332.46L310.23 333.18L311.52 333.92L312.80 334.67L314.08 335.43L315.35 336.20L316.62 336.99L317.88 337.78L319.13 338.59L320.38 339.41L321.62 340.25L322.85 341.09L324.08 341.95L325.30 342.81L326.51 343.69L327.72 344.58L328.92 345.49L330.11 346.40L331.29 347.32L332.47 348.26L333.64 349.21L334.80 350.16L335.95 351.13L337.10 352.11L338.23 353.10L339.36 354.10L340.48 355.11L341.60 356.14L342.70 357.17L343.80 358.21L344.89 359.27L345.97 360.33L347.04 361.40L348.10 362.49L349.15 363.58L350.20 364.69L351.23 365.80L352.26 366.92L353.28 368.06L354.29 369.20L355.29 370.35L356.28 371.51L357.26 372.69L358.23 373.87L359.19 375.06L360.14 376.25L361.08 377.46L362.02 378.68L362.94 379.90L363.85 381.14L364.76 382.38L365.65 383.63L366.53 384.89L367.40 386.16L368.27 387.43L369.12 388.72L369.96 390.01L370.79 391.31L371.61 392.62L372.42 393.93L373.22 395.26L374.01 396.59L374.79 397.92L375.56 399.27L376.31 400.62L377.06 401.98L377.80 403.35L378.52 404.72L379.23 406.10L379.93 407.49L380.62 408.88L381.30 410.28L381.97 411.69L382.63 413.10L383.27 414.52L383.91 415.95L384.53 417.38L385.14 418.82L385.74 420.26L386.33 421.71L386.90 423.16L387.46 424.62L388.02 426.08L388.56 427.55L389.09 429.03L389.60 430.51L390.11 431.99L390.60 433.48L391.08 434.97L391.55 436.47L392.01 437.97L392.45 439.48L392.88 440.99L393.30 442.51L393.71 444.03L394.11 445.55L394.49 447.08L394.86 448.61L395.22 450.14L395.57 451.68L395.90 453.22L396.23 454.76L396.54 456.31L396.83 457.85L397.12 459.41L397.39 460.96L397.65 462.52L397.90 464.08L398.13 465.64L398.35 467.20L398.56 468.77L398.76 470.34L398.94 471.90L399.11 473.48L399.27 475.05L399.42 476.62L399.55 478.20L399.67 479.78L399.78 481.35L399.88 482.93L399.96 484.51L400.03 486.09L400.09 487.67L400.13 489.25L400.16 490.84L400.18 492.42L400.19 494.00" stroke="#808080" stroke-width="1.1" fill="none" clip-path="url(#c3)"/>
<path d="M233.05 312.70L234.51 312.70L235.97 312.69L237.43 312.68L238.89 312.67L240.35 312.65L241.81 312.63L243.28 312.60L244.75 312.57L246.22 312.54L247.69 312.51L249.16 312.47L250.64 312.43L252.13 312.39L253.61 312.35L255.10 312.30L256.60 312.26L258.10 312.21L259.60 312.16L261.11 312.12L262.62 312.07L264.14 312.03L265.67 311.99L267.20 311.95L268.73 311.91L270.27 311.87L271.82 311.84L273.37 311.81L274.93 311.79L276.50 311.77L278.07 311.76L279.64 311.75L281.23 311.75L282.81 311.76L284.41 311.77L286.01 311.79L287.62 311.82L289.23 311.86L290.85 311.91L292.47 311.97L294.11 312.04L295.74 312.11L297.38 312.20L299.03 312.30L300.68 312.42L302.34 312.54L304.00 312.68L305.67 312.83L307.34 312.99L309.02 313.17L310.70 313.36L312.39 313.57L314.08 313.79L315.77 314.03L317.47 314.28L319.17 314.55L320.87 314.84L322.58 315.14L324.29 315.46L326.00 315.79L327.71 316.14L329.43 316.52L331.15 316.90L332.87 317.31L334.59 317.74L336.31 318.18L338.03 318.64L339.75 319.13L341.48 319.63L343.20 320.15L344.92 320.69L346.64 321.25L348.37 321.83L350.09 322.43L351.80 323.05L353.52 323.69L355.24 324.36L356.95 325.04L358.66 325.74L360.36 326.47L362.07 327.21L363.77 327.98L365.46 328.77L367.15 329.58L368.84 330.41L370.52 331.26L372.20 332.14L373.87 333.03L375.53 333.95L377.19 334.89L378.85 335.85L380.49 336.83L382.13 337.83L383.76 338.86L385.39 339.91L387.00 340.97L388.61 342.06L390.21 343.17L391.80 344.31L393.38 345.46L394.95 346.64L396.51 347.83L398.06 349.05L399.60 350.29L401.13 351.55L402.65 352.83L404.16 354.14L405.65 355.46L407.13 356.80L408.60 358.17L410.06 359.55L411.51 360.96L412.94 362.38L414.36 363.83L415.76 365.29L417.15 366.78L418.53 368.28L419.89 369.80L421.23 371.35L422.56 372.91L423.88 374.49L425.18 376.09L426.46 377.71L427.73 379.34L428.98 381.00L430.21 382.67L431.42 384.36L432.62 386.06L433.80 387.79L434.97 389.53L436.11 391.29L437.24 393.06L438.34 394.85L439.43 396.66L440.50 398.48L441.55 400.32L442.58 402.17L443.59 404.04L444.58 405.92L445.55 407.82L446.50 409.73L447.43 411.65L448.34 413.59L449.22 415.54L450.09 417.50L450.93 419.48L451.75 421.47L452.56 423.47L453.33 425.48L454.09 427.50L454.82 429.54L455.54 431.58L456.23 433.64L456.89 435.71L457.53 437.78L458.15 439.87L458.75 441.96L459.33 444.06L459.88 446.17L460.40 448.29L460.90 450.42L461.38 452.55L461.84 454.69L462.27 456.84L462.68 458.99L463.06 461.15L463.42 463.32L463.75 465.49L464.06 467.66L464.35 469.84L464.61 472.02L464.84 474.21L465.05 476.40L465.24 478.60L465.40 480.79L465.54 482.99L465.65 485.19L465.74 487.39L465.80 489.59L465.84 491.80L465.85 494.00" stroke="#ff0000" stroke-width="1.5" fill="none" clip-path="url(#c3)"/>
<path d="M233.05 312.70L234.51 312.70L235.97 312.73L237.43 312.76L238.88 312.81L240.34 312.87L241.80 312.95L243.25 313.04L244.71 313.14L246.16 313.26L247.62 313.39L249.07 313.53L250.52 313.69L251.97 313.86L253.42 314.05L254.87 314.25L256.31 314.46L257.75 314.69L259.20 314.93L260.64 315.18L262.07 315.45L263.51 315.73L264.94 316.03L266.37 316.33L267.80 316.66L269.23 316.99L270.65 317.34L272.07 317.70L273.49 318.08L274.90 318.47L276.31 318.87L277.72 319.28L279.12 319.71L280.52 320.16L281.92 320.61L283.31 321.08L284.70 321.56L286.09 322.06L287.47 322.56L288.85 323.09L290.22 323.62L291.59 324.17L292.95 324.73L294.31 325.30L295.67 325.89L297.02 326.48L298.36 327.10L299.70 327.72L301.04 328.36L302.37 329.01L303.69 329.67L305.01 330.34L306.33 331.03L307.64 331.73L308.94 332.44L310.24 333.16L311.53 333.90L312.81 334.65L314.09 335.41L315.36 336.18L316.63 336.96L317.89 337.76L319.15 338.57L320.39 339.39L321.63 340.22L322.87 341.07L324.10 341.92L325.32 342.79L326.53 343.67L327.74 344.56L328.93 345.46L330.13 346.37L331.31 347.29L332.49 348.23L333.66 349.17L334.82 350.13L335.97 351.10L337.12 352.08L338.26 353.07L339.39 354.07L340.51 355.08L341.62 356.10L342.73 357.13L343.83 358.18L344.92 359.23L346.00 360.29L347.07 361.37L348.13 362.45L349.19 363.54L350.23 364.65L351.27 365.76L352.30 366.88L353.32 368.02L354.33 369.16L355.33 370.31L356.32 371.47L357.30 372.64L358.27 373.82L359.23 375.01L360.19 376.21L361.13 377.42L362.06 378.64L362.99 379.86L363.90 381.09L364.81 382.34L365.70 383.59L366.58 384.85L367.46 386.11L368.32 387.39L369.17 388.67L370.02 389.97L370.85 391.27L371.67 392.57L372.48 393.89L373.28 395.21L374.07 396.54L374.85 397.88L375.62 399.23L376.38 400.58L377.13 401.94L377.86 403.31L378.59 404.68L379.30 406.06L380.00 407.45L380.69 408.84L381.37 410.24L382.04 411.65L382.70 413.06L383.35 414.48L383.98 415.91L384.61 417.34L385.22 418.78L385.82 420.22L386.41 421.67L386.98 423.12L387.55 424.58L388.10 426.05L388.64 427.52L389.17 428.99L389.69 430.47L390.19 431.96L390.69 433.45L391.17 434.94L391.64 436.44L392.10 437.94L392.54 439.45L392.98 440.96L393.40 442.48L393.81 444.00L394.20 445.52L394.59 447.05L394.96 448.58L395.32 450.11L395.67 451.65L396.00 453.19L396.32 454.74L396.63 456.28L396.93 457.83L397.22 459.39L397.49 460.94L397.75 462.50L398.00 464.06L398.23 465.62L398.45 467.19L398.66 468.75L398.86 470.32L399.04 471.89L399.22 473.46L399.38 475.04L399.52 476.61L399.66 478.19L399.78 479.77L399.88 481.35L399.98 482.92L400.06 484.51L400.13 486.09L400.19 487.67L400.24 489.25L400.27 490.83L400.29 492.42L400.29 494.00" stroke="#00ff00" stroke-width="1.5" fill="none" stroke-dasharray="5 4.8" clip-path="url(#c3)"/>
<path d="M233.05 312.70L234.51 312.70L235.97 312.72L237.43 312.74L238.88 312.77L240.34 312.81L241.80 312.86L243.26 312.92L244.72 312.99L246.18 313.07L247.64 313.15L249.09 313.25L250.55 313.35L252.01 313.47L253.47 313.59L254.93 313.72L256.39 313.86L257.85 314.01L259.31 314.17L260.77 314.34L262.22 314.52L263.68 314.71L265.14 314.90L266.60 315.11L268.06 315.32L269.52 315.55L270.98 315.78L272.44 316.03L273.90 316.28L275.36 316.54L276.82 316.81L278.28 317.10L279.74 317.39L281.20 317.69L282.66 318.00L284.11 318.32L285.57 318.65L287.03 318.99L288.49 319.34L289.95 319.70L291.41 320.07L292.87 320.45L294.33 320.84L295.79 321.24L297.24 321.65L298.70 322.07L300.16 322.50L301.62 322.94L303.07 323.39L304.53 323.86L305.99 324.33L307.44 324.81L308.90 325.31L310.35 325.81L311.81 326.33L313.26 326.86L314.71 327.40L316.17 327.95L317.62 328.51L319.07 329.08L320.52 329.66L321.97 330.26L323.41 330.87L324.86 331.49L326.30 332.12L327.75 332.76L329.19 333.41L330.63 334.08L332.07 334.76L333.50 335.45L334.94 336.16L336.37 336.87L337.80 337.60L339.23 338.35L340.66 339.10L342.08 339.87L343.50 340.65L344.92 341.45L346.33 342.25L347.74 343.07L349.15 343.91L350.56 344.76L351.96 345.62L353.36 346.50L354.75 347.39L356.14 348.29L357.52 349.21L358.90 350.14L360.28 351.08L361.65 352.04L363.02 353.02L364.38 354.01L365.73 355.01L367.08 356.03L368.42 357.06L369.76 358.11L371.09 359.17L372.42 360.25L373.73 361.34L375.04 362.45L376.35 363.57L377.64 364.71L378.93 365.86L380.21 367.03L381.48 368.21L382.74 369.40L383.99 370.62L385.24 371.84L386.48 373.08L387.70 374.34L388.92 375.61L390.12 376.90L391.32 378.20L392.51 379.51L393.68 380.85L394.84 382.19L396.00 383.55L397.14 384.93L398.27 386.32L399.38 387.72L400.49 389.14L401.58 390.57L402.66 392.02L403.73 393.48L404.78 394.95L405.82 396.44L406.84 397.94L407.86 399.46L408.85 400.99L409.84 402.53L410.80 404.09L411.76 405.66L412.70 407.24L413.62 408.83L414.53 410.44L415.42 412.06L416.29 413.69L417.15 415.34L417.99 416.99L418.82 418.66L419.63 420.34L420.42 422.03L421.19 423.73L421.95 425.44L422.69 427.16L423.41 428.89L424.11 430.64L424.79 432.39L425.46 434.15L426.11 435.92L426.73 437.70L427.34 439.49L427.93 441.29L428.50 443.10L429.06 444.91L429.59 446.74L430.10 448.57L430.59 450.40L431.06 452.25L431.52 454.10L431.95 455.96L432.36 457.82L432.75 459.69L433.12 461.57L433.47 463.45L433.80 465.33L434.11 467.22L434.40 469.12L434.66 471.01L434.91 472.92L435.13 474.82L435.33 476.73L435.52 478.64L435.68 480.56L435.82 482.47L435.93 484.39L436.03 486.31L436.11 488.23L436.16 490.15L436.19 492.08L436.20 494.00" stroke="#0000ff" stroke-width="1.5" fill="none" stroke-dasharray="1.4 4.35" clip-path="url(#c3)"/>
<path d="M233.05 312.70L234.51 312.68L235.97 312.65L237.43 312.58L238.89 312.49L240.36 312.38L241.83 312.25L243.31 312.09L244.79 311.91L246.28 311.71L247.77 311.49L249.27 311.25L250.78 311.00L252.30 310.73L253.83 310.45L255.36 310.16L256.91 309.85L258.46 309.54L260.03 309.22L261.61 308.90L263.19 308.57L264.79 308.24L266.40 307.90L268.02 307.57L269.65 307.24L271.29 306.91L272.94 306.58L274.60 306.26L276.27 305.95L277.96 305.64L279.65 305.34L281.36 305.05L283.07 304.77L284.80 304.50L286.53 304.24L288.28 304.00L290.03 303.76L291.80 303.55L293.57 303.34L295.35 303.16L297.14 302.99L298.94 302.83L300.75 302.69L302.56 302.58L304.39 302.47L306.22 302.39L308.05 302.33L309.90 302.29L311.75 302.26L313.60 302.26L315.47 302.28L317.33 302.32L319.21 302.38L321.09 302.46L322.97 302.57L324.86 302.70L326.75 302.85L328.64 303.02L330.54 303.22L332.44 303.44L334.34 303.68L336.25 303.95L338.16 304.24L340.07 304.56L341.98 304.90L343.89 305.27L345.81 305.66L347.72 306.07L349.63 306.51L351.54 306.98L353.46 307.47L355.37 307.98L357.28 308.53L359.18 309.09L361.09 309.68L362.99 310.30L364.89 310.95L366.79 311.61L368.69 312.31L370.58 313.03L372.46 313.78L374.34 314.55L376.22 315.35L378.09 316.17L379.95 317.02L381.81 317.89L383.67 318.80L385.51 319.72L387.35 320.67L389.18 321.65L391.01 322.66L392.82 323.68L394.63 324.74L396.43 325.82L398.22 326.92L400.00 328.05L401.77 329.21L403.53 330.39L405.28 331.59L407.02 332.82L408.75 334.08L410.46 335.36L412.17 336.66L413.86 337.99L415.54 339.34L417.21 340.71L418.86 342.11L420.50 343.54L422.13 344.98L423.74 346.45L425.34 347.95L426.92 349.46L428.49 351.00L430.04 352.56L431.58 354.15L433.10 355.75L434.61 357.38L436.10 359.03L437.57 360.70L439.02 362.39L440.46 364.10L441.88 365.84L443.28 367.59L444.67 369.36L446.03 371.16L447.38 372.97L448.70 374.81L450.01 376.66L451.30 378.53L452.56 380.42L453.81 382.33L455.04 384.26L456.25 386.20L457.43 388.17L458.60 390.15L459.74 392.14L460.86 394.16L461.96 396.19L463.04 398.23L464.09 400.30L465.13 402.37L466.14 404.46L467.12 406.57L468.09 408.69L469.03 410.83L469.95 412.98L470.84 415.14L471.71 417.31L472.56 419.50L473.38 421.70L474.18 423.92L474.95 426.14L475.70 428.37L476.42 430.62L477.12 432.88L477.79 435.14L478.44 437.42L479.06 439.71L479.66 442.00L480.23 444.31L480.77 446.62L481.29 448.94L481.79 451.27L482.25 453.60L482.70 455.94L483.11 458.29L483.50 460.64L483.86 463.00L484.20 465.37L484.51 467.74L484.79 470.11L485.04 472.49L485.27 474.87L485.47 477.25L485.65 479.64L485.80 482.03L485.92 484.42L486.01 486.81L486.08 489.21L486.12 491.60L486.14 494.00" stroke="#ff8000" stroke-width="1.5" fill="none" stroke-dasharray="5 3 1.4 3" clip-path="url(#c3)"/>
<path d="M233.05 312.70L234.51 312.67L235.97 312.59L237.43 312.45L238.90 312.26L240.37 312.02L241.86 311.73L243.35 311.40L244.85 311.02L246.36 310.61L247.88 310.15L249.41 309.67L250.96 309.16L252.52 308.63L254.10 308.08L255.68 307.50L257.29 306.92L258.91 306.32L260.54 305.72L262.19 305.11L263.85 304.49L265.53 303.88L267.23 303.27L268.94 302.66L270.66 302.06L272.40 301.47L274.15 300.88L275.92 300.31L277.70 299.75L279.49 299.20L281.30 298.67L283.12 298.15L284.95 297.65L286.80 297.17L288.66 296.71L290.52 296.27L292.41 295.84L294.30 295.44L296.20 295.06L298.11 294.70L300.04 294.36L301.97 294.05L303.91 293.76L305.86 293.49L307.82 293.25L309.79 293.04L311.76 292.84L313.75 292.68L315.74 292.54L317.74 292.43L319.74 292.34L321.75 292.28L323.77 292.24L325.79 292.24L327.81 292.26L329.84 292.31L331.88 292.38L333.92 292.49L335.96 292.62L338.00 292.78L340.05 292.97L342.10 293.18L344.15 293.43L346.20 293.70L348.26 294.00L350.31 294.33L352.37 294.69L354.43 295.08L356.48 295.50L358.54 295.94L360.59 296.42L362.64 296.92L364.69 297.46L366.74 298.02L368.78 298.61L370.83 299.23L372.87 299.88L374.90 300.56L376.93 301.26L378.96 302.00L380.98 302.77L382.99 303.56L385.00 304.38L387.01 305.23L389.01 306.11L391.00 307.02L392.98 307.96L394.96 308.92L396.93 309.92L398.89 310.94L400.84 311.99L402.78 313.07L404.71 314.18L406.64 315.31L408.55 316.47L410.45 317.66L412.35 318.88L414.23 320.12L416.10 321.40L417.95 322.69L419.80 324.02L421.63 325.37L423.45 326.75L425.26 328.15L427.05 329.59L428.83 331.04L430.59 332.53L432.34 334.03L434.08 335.57L435.80 337.13L437.50 338.71L439.19 340.32L440.86 341.95L442.51 343.61L444.15 345.29L445.77 347.00L447.37 348.73L448.96 350.48L450.53 352.25L452.07 354.05L453.60 355.87L455.12 357.71L456.61 359.58L458.08 361.47L459.53 363.37L460.96 365.30L462.37 367.25L463.76 369.22L465.13 371.21L466.48 373.22L467.80 375.26L469.11 377.31L470.39 379.37L471.65 381.46L472.89 383.57L474.10 385.69L475.29 387.83L476.46 389.99L477.60 392.17L478.73 394.36L479.82 396.57L480.89 398.80L481.94 401.04L482.97 403.29L483.96 405.56L484.94 407.85L485.89 410.15L486.81 412.46L487.71 414.79L488.58 417.13L489.42 419.48L490.24 421.85L491.04 424.23L491.80 426.61L492.54 429.01L493.26 431.42L493.94 433.85L494.60 436.28L495.24 438.72L495.84 441.17L496.42 443.62L496.97 446.09L497.50 448.57L497.99 451.05L498.46 453.54L498.90 456.03L499.31 458.54L499.69 461.05L500.05 463.56L500.38 466.08L500.68 468.60L500.95 471.13L501.19 473.66L501.40 476.20L501.59 478.73L501.75 481.27L501.87 483.82L501.97 486.36L502.05 488.91L502.09 491.45L502.10 494.00" stroke="#800080" stroke-width="1.5" fill="none" stroke-dasharray="5 2.3 1.4 2.3 1.4 2.3" clip-path="url(#c3)"/>
<path d="M248 363.3H280" stroke="#808080" stroke-width="1.05" fill="none"/>
<text x="282.8" y="367.8" font-size="13.8">r</text><text x="287.6" y="372.7" font-size="7.4">H</text>
<path d="M248 385.6H280" stroke="#ff0000" stroke-width="1.5" fill="none"/>
<text transform="translate(282.83,390.20) scale(1.28,1)" font-size="13.8" stroke="none">α</text>
<text x="291.70" y="394.80" font-size="7.8" stroke-width="0.15">22</text>
<text x="299.40" y="390.20" font-size="13.8">=</text>
<text x="307.00" y="390.20" font-size="13.8">0</text>
<path d="M248 408.15000000000003H280" stroke="#00ff00" stroke-width="1.5" fill="none" stroke-dasharray="5 4.8"/>
<text transform="translate(282.83,412.75) scale(1.28,1)" font-size="13.8" stroke="none">α</text>
<text x="291.70" y="417.35" font-size="7.8" stroke-width="0.15">22</text>
<text x="299.40" y="412.75" font-size="13.8">=</text>
<text x="307.00" y="412.75" font-size="13.8">-2</text>
<path d="M248 430.70000000000005H280" stroke="#0000ff" stroke-width="1.5" fill="none" stroke-dasharray="1.4 4.35"/>
<text transform="translate(282.83,435.30) scale(1.28,1)" font-size="13.8" stroke="none">α</text>
<text x="291.70" y="439.90" font-size="7.8" stroke-width="0.15">22</text>
<text x="299.40" y="435.30" font-size="13.8">=</text>
<text x="307.00" y="435.30" font-size="13.8">-1</text>
<path d="M248 453.25H280" stroke="#ff8000" stroke-width="1.5" fill="none" stroke-dasharray="5 3 1.4 3"/>
<text transform="translate(282.83,457.85) scale(1.28,1)" font-size="13.8" stroke="none">α</text>
<text x="291.70" y="462.45" font-size="7.8" stroke-width="0.15">22</text>
<text x="299.40" y="457.85" font-size="13.8">=</text>
<text x="307.00" y="457.85" font-size="13.8">1</text>
<path d="M248 475.8H280" stroke="#800080" stroke-width="1.5" fill="none" stroke-dasharray="5 2.3 1.4 2.3 1.4 2.3"/>
<text transform="translate(282.83,480.40) scale(1.28,1)" font-size="13.8" stroke="none">α</text>
<text x="291.70" y="485.00" font-size="7.8" stroke-width="0.15">22</text>
<text x="299.40" y="480.40" font-size="13.8">=</text>
<text x="307.00" y="480.40" font-size="13.8">2</text>
<text x="474.6" y="300.7" font-size="13.8">a</text><text x="480.3" y="306" font-size="9.5" stroke="#000" stroke-width="0.5">*</text><text x="484.8" y="300.7" font-size="13.8">=0.9</text>
<text x="378" y="528.5" font-size="14.5" text-anchor="middle">rsinθ</text>
<text transform="translate(202,392.3) rotate(-90)" font-size="14.5" text-anchor="middle">rcosθ</text>
</svg>
</body></html>
